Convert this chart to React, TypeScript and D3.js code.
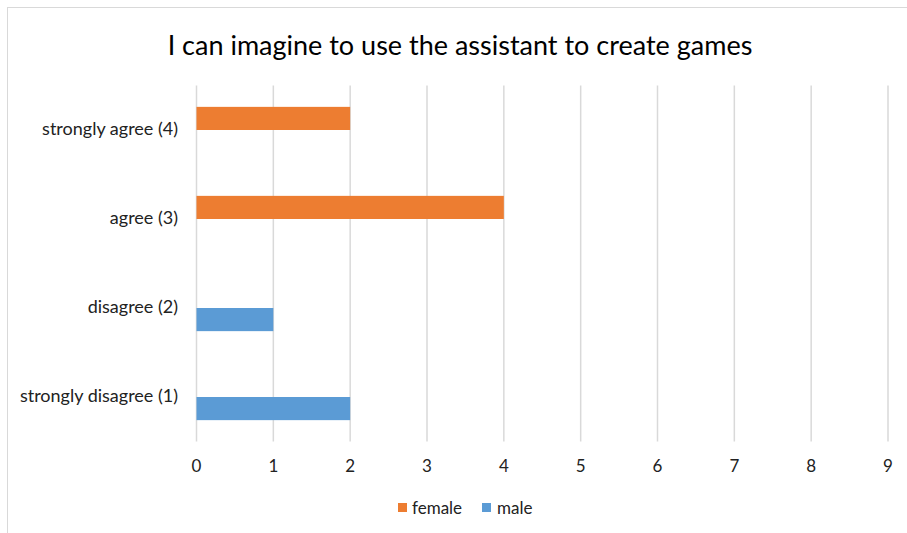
import React from "react";
import * as d3 from "d3";

const categories = ["strongly agree (4)", "agree (3)", "disagree (2)", "strongly disagree (1)"];
const seriesNames = ["female", "male"];
const femaleValues = [2, 4, 0, 0];
const maleValues = [0, 0, 1, 2];
const xTicks = [0, 1, 2, 3, 4, 5, 6, 7, 8, 9];
const title = "I can imagine to use the assistant to create games";

const colors: Record<string, string> = { female: "#ED7D31", male: "#5B9BD5" };
const FONT = "Lato, 'Open Sans', sans-serif";

export default function App() {
  const W = 907, H = 533;
  const left = 196.5, right = 888, top = 85.5, bottom = 441.5;
  const x = d3.scaleLinear().domain([0, 9]).range([left, right]);
  const y = d3.scaleBand<string>().domain(categories).range([top, bottom]).paddingInner(0.48).paddingOuter(0.24);
  const inner = d3.scaleBand<string>().domain(seriesNames).range([0, y.bandwidth()]);
  const series = [
    { name: "female", values: femaleValues },
    { name: "male", values: maleValues },
  ];
  return (
    <svg width={W} height={H} style={{ position: "absolute", left: 0, top: 0, background: "#fff" }}>
      <rect x={7.5} y={7.5} width={W} height={H} fill="#fff" stroke="#d9d9d9" />
      <text x={460} y={55} textAnchor="middle" fontFamily={FONT} fontSize={27} fill="#000">{title}</text>
      {xTicks.map((t) => (
        <g key={t}>
          <line x1={x(t)} x2={x(t)} y1={top} y2={bottom} stroke="#d9d9d9" strokeWidth={1.5} />
          <text x={x(t)} y={472} textAnchor="middle" fontFamily={FONT} fontSize={17} fill="#222">{t}</text>
        </g>
      ))}
      {categories.map((c) => (
        <text key={c} x={178} y={(y(c) as number) + y.bandwidth() / 2 + 5} textAnchor="end" fontFamily={FONT} fontSize={18} fill="#222">{c}</text>
      ))}
      {series.map((s) =>
        s.values.map((v, i) =>
          v > 0 ? (
            <rect key={s.name + i} x={x(0)} y={(y(categories[i]) as number) + (inner(s.name) as number)} width={x(v) - x(0)} height={inner.bandwidth()} fill={colors[s.name]} />
          ) : null
        )
      )}
      <g fontFamily={FONT} fontSize={17} fill="#222">
        <rect x={398} y={503} width={9} height={9} fill={colors.female} />
        <text x={412} y={514}>female</text>
        <rect x={482} y={503} width={9} height={9} fill={colors.male} />
        <text x={497} y={514}>male</text>
      </g>
    </svg>
  );
}
